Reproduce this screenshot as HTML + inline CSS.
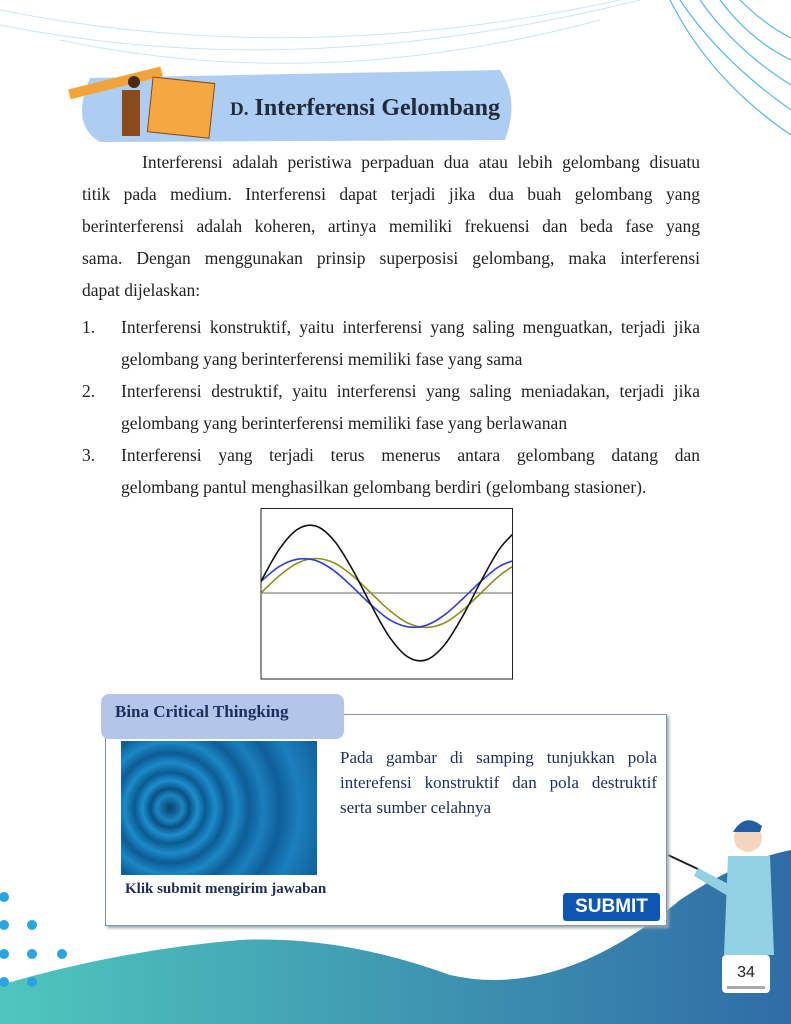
<!DOCTYPE html>
<html><head><meta charset="utf-8">
<style>
body{margin:0;width:791px;height:1024px;position:relative;overflow:hidden;background:#fff;font-family:"Liberation Serif",serif;}
.abs{position:absolute;}
.ln{position:absolute;left:82px;width:618px;font-size:17.5px;color:#222;line-height:32px;text-align:justify;text-align-last:justify;white-space:nowrap;}
.ln.last{text-align-last:left;}
.ind{left:121px;width:579px;}
.num{position:absolute;left:82px;font-size:17.5px;color:#222;line-height:32px;}
</style></head><body>
<svg class="abs" style="left:0;top:0" width="791" height="1024">
 <defs><linearGradient id="g" x1="0" x2="1" y1="0" y2="0"><stop offset="0" stop-color="#4fc6bd"/><stop offset="1" stop-color="#2f6ca6"/></linearGradient></defs>
 <g fill="none" stroke="#cfe4ee" stroke-width="1">
  <path d="M0 10 Q300 70 620 0"/><path d="M0 25 Q300 85 640 0"/><path d="M60 40 Q320 95 600 20"/>
 </g>
 <g fill="none" stroke="#59b7dc" stroke-width="1.2">
  <path d="M680 0 Q720 60 791 110"/><path d="M700 0 Q735 50 791 85"/><path d="M720 0 Q750 40 791 60"/><path d="M740 0 Q765 25 791 38"/><path d="M670 0 Q710 80 791 135"/>
 </g>
 <path d="M0 985 Q120 950 240 940 Q340 935 450 975 Q560 1000 680 900 Q740 860 791 850 L791 1024 L0 1024 Z" fill="url(#g)"/>
 <g fill="#2aa4e0"><circle cx="4" cy="897" r="5"/><circle cx="4" cy="925" r="5"/><circle cx="32" cy="925" r="5"/><circle cx="4" cy="954" r="5"/><circle cx="32" cy="954" r="5"/><circle cx="62" cy="954" r="5"/><circle cx="4" cy="982" r="5"/><circle cx="32" cy="982" r="5"/></g>
 <path d="M90 78 L500 70 Q520 100 505 140 L100 142 Q70 125 90 78 Z" fill="#aecdf3"/>
 <rect x="68" y="78" width="95" height="10" fill="#f2a33a" transform="rotate(-14 115 83)"/>
 <rect x="150" y="80" width="62" height="55" fill="#f5a742" stroke="#8a4a10" transform="rotate(6 180 108)"/>
 <rect x="122" y="90" width="18" height="46" fill="#8b4b1d"/><circle cx="134" cy="82" r="6" fill="#4a2a10"/>
 <rect x="722" y="955" width="48" height="38" rx="4" fill="#fff"/>
 <circle cx="748" cy="838" r="14" fill="#f4d6bf"/><path d="M733 832 Q745 812 762 826 L760 832 Z" fill="#235ea0"/>
 <path d="M728 856 L770 856 L774 955 L724 955 Z" fill="#92d0e4"/>
 <line x1="668" y1="855" x2="700" y2="870" stroke="#222" stroke-width="2"/>
 <path d="M698 868 L732 886 L728 896 L694 876 Z" fill="#92d0e4"/>
</svg>
<div class="abs" style="left:230px;top:95px;font-size:24px;font-weight:bold;color:#1f2b3a;"><span style="font-size:19px">D.</span> Interferensi Gelombang</div>
<div>
<div class="ln" style="top:146px;left:142px;width:558px">Interferensi adalah peristiwa perpaduan dua atau lebih gelombang disuatu</div>
<div class="ln" style="top:178px">titik pada medium. Interferensi dapat terjadi jika dua buah gelombang yang</div>
<div class="ln" style="top:210px">berinterferensi adalah koheren, artinya memiliki frekuensi dan beda fase yang</div>
<div class="ln" style="top:242px">sama. Dengan menggunakan prinsip superposisi gelombang, maka interferensi</div>
<div class="ln last" style="top:274px">dapat dijelaskan:</div>
</div>
<div>
<span class="num" style="top:311px">1.</span>
<div class="ln ind" style="top:311px">Interferensi konstruktif, yaitu interferensi yang saling menguatkan, terjadi jika</div>
<div class="ln ind last" style="top:343px">gelombang yang berinterferensi memiliki fase yang sama</div>
</div>
<div>
<span class="num" style="top:375px">2.</span>
<div class="ln ind" style="top:375px">Interferensi destruktif, yaitu interferensi yang saling meniadakan, terjadi jika</div>
<div class="ln ind last" style="top:407px">gelombang yang berinterferensi memiliki fase yang berlawanan</div>
</div>
<div>
<span class="num" style="top:439px">3.</span>
<div class="ln ind" style="top:439px">Interferensi yang terjadi terus menerus antara gelombang datang dan</div>
<div class="ln ind last" style="top:471px">gelombang pantul menghasilkan gelombang berdiri (gelombang stasioner).</div>
</div>

<svg id="chart" class="abs" style="left:0;top:0" width="791" height="700">
 <defs><clipPath id="cp"><rect x="261" y="509" width="251" height="170"/></clipPath></defs>
 <rect x="261" y="508.5" width="251.5" height="170.5" fill="#fff" stroke="#222" stroke-width="1"/>
 <line x1="261" y1="593" x2="512" y2="593" stroke="#666" stroke-width="1"/>
 <g id="marks" clip-path="url(#cp)"></g>
</svg>
<script>
const phases=[0,30,60,90,120,150,180,210,240,270,300,330,360,390,420];
const olive=[0,.5,.87,1,.87,.5,0,-.5,-.87,-1,-.87,-.5,0,.5,.87];
const blue=[.34,.77,.98,.94,.64,.17,-.34,-.77,-.98,-.94,-.64,-.17,.34,.77,.98];
const black=[.34,1.27,1.85,1.94,1.51,.67,-.34,-1.27,-1.85,-1.94,-1.51,-.67,.34,1.27,1.85];
const xs=p=>261+p*220/360, ys=v=>593-v*34.5;
function path(vals){
 const pts=phases.map((p,i)=>[xs(p),ys(vals[i])]);
 let d='M'+pts[0][0]+' '+pts[0][1];
 for(let i=0;i<pts.length-1;i++){
  const p0=pts[Math.max(0,i-1)],p1=pts[i],p2=pts[i+1],p3=pts[Math.min(pts.length-1,i+2)];
  d+=` C${p1[0]+(p2[0]-p0[0])/6} ${p1[1]+(p2[1]-p0[1])/6} ${p2[0]-(p3[0]-p1[0])/6} ${p2[1]-(p3[1]-p1[1])/6} ${p2[0]} ${p2[1]}`;
 }
 return d;
}
const g=document.getElementById('marks');
[[olive,'#8f8f1e','olive-wave'],[blue,'#2f3fd0','blue-wave'],[black,'#111','black-wave']].forEach(s=>{
 const el=document.createElementNS('http://www.w3.org/2000/svg','path');
 el.setAttribute('d',path(s[0]));el.setAttribute('fill','none');el.setAttribute('stroke',s[1]);el.setAttribute('stroke-width','1.6');
 
 
 g.appendChild(el);
});
</script>

<div class="abs" style="left:105px;top:714px;width:560px;height:210px;border:1px solid #8a94b0;box-shadow:2px 2px 3px #9aa;background:#fff;"></div>
<div class="abs" style="left:101px;top:694px;width:243px;height:45px;background:#b3c6ea;border-radius:8px;"></div>
<div class="abs" style="left:115px;top:702px;font-size:17px;font-weight:bold;color:#1f2d5a;">Bina Critical Thingking</div>
<div class="abs" style="left:121px;top:741px;width:196px;height:134px;background:radial-gradient(circle at 25% 50%,#0a3f6a 0,#1a86c0 8%,#0b4f84 12%,#1d8fcc 17%,#0c5a92 22%,#1b8bc8 28%,#0d5b94 34%,#1a88c4 41%,#0e5d96 49%,#1980bd 58%,#0f5e98 68%,#1b7fbb 80%,#125f98 100%);"></div>
<div class="abs" style="left:340px;top:745px;width:317px;font-size:17px;line-height:25px;color:#1f2d5a;text-align:justify;">Pada gambar di samping tunjukkan pola interefensi konstruktif dan pola destruktif serta sumber celahnya</div>
<div class="abs" style="left:125px;top:881px;font-size:15px;font-weight:bold;color:#1f2d5a;">Klik submit mengirim jawaban</div>
<div class="abs" style="left:563px;top:893px;width:97px;height:28px;background:#0d56b4;color:#fff;font-family:'Liberation Sans',sans-serif;font-weight:bold;font-size:19px;text-align:center;line-height:28px;border-radius:3px;">SUBMIT</div>
<div class="abs" style="left:722px;top:964px;width:48px;text-align:center;font-family:'Liberation Sans',sans-serif;font-size:16px;color:#222;">34</div>
<div class="abs" style="left:727px;top:986px;width:38px;height:3px;background:#aaa"></div>
</body></html>
